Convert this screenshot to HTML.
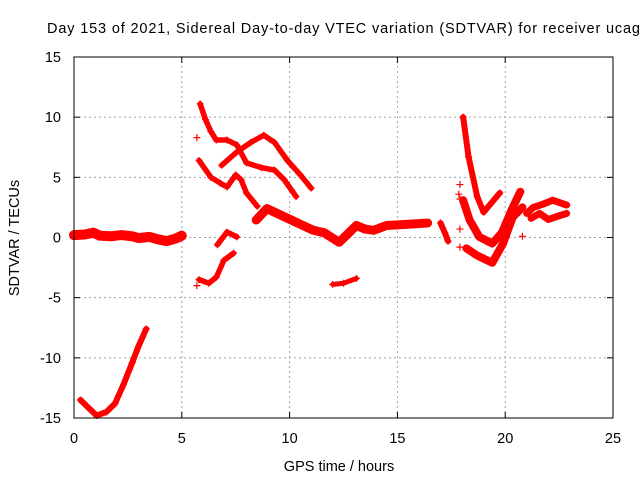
<!DOCTYPE html>
<html><head><meta charset="utf-8">
<style>
body{margin:0;background:#fff;}
svg{display:block;font-family:"Liberation Sans",sans-serif;}
</style></head>
<body>
<svg id="chart" width="640" height="480" viewBox="0 0 640 480">
<rect width="640" height="480" fill="#fff"/>
<text x="47" y="33" font-size="14.5" fill="#000" textLength="593" lengthAdjust="spacing">Day 153 of 2021, Sidereal Day-to-day VTEC variation (SDTVAR) for receiver ucag</text>
<g id="grid"></g>
<g id="ticks"></g>
<g id="series"></g>
<rect x="74" y="57" width="539" height="361" fill="none" stroke="#000" stroke-width="1"/>
<text x="339" y="471" font-size="14.5" text-anchor="middle">GPS time / hours</text>
<text x="19" y="238" font-size="14.5" text-anchor="middle" transform="rotate(-90 19 238)">SDTVAR / TECUs</text>
</svg>
<script>
const xTicks=[0,5,10,15,20,25];
const yTicks=[-15,-10,-5,0,5,10,15];
const trackFlat=[[0,0.2],[0.5,0.25],[0.9,0.4],[1.2,0.15],[1.7,0.1],[2.2,0.2],[2.7,0.1],[3.0,-0.05],[3.5,0.05],[3.9,-0.15],[4.3,-0.3],[4.7,-0.1],[5.0,0.15]];
const trackLow=[[0.3,-13.5],[0.7,-14.2],[1.05,-14.8],[1.5,-14.5],[1.9,-13.8],[2.3,-12.2],[2.7,-10.4],[3.0,-9],[3.35,-7.6]];
const trackC=[[5.85,11.1],[6.1,9.8],[6.35,8.8],[6.6,8.1],[7.1,8.1],[7.55,7.7],[8.0,6.2],[8.7,5.8],[9.3,5.6],[9.75,4.8],[10.3,3.4]];
const trackD=[[6.85,6.0],[7.55,7.1],[8.2,7.9],[8.8,8.5],[9.3,7.9],[9.9,6.4],[10.5,5.2],[11.0,4.1]];
const trackE=[[5.8,6.4],[6.35,5.0],[6.8,4.5],[7.1,4.2],[7.5,5.2],[7.75,4.8],[8.0,3.7],[8.5,2.6]];
const trackF=[[8.45,1.45],[8.95,2.4],[9.9,1.6],[11.1,0.6],[11.6,0.4],[12.3,-0.4],[12.7,0.3],[13.1,1.0],[13.5,0.7],[13.9,0.6],[14.5,1.0],[15.5,1.1],[16.4,1.2]];
const trackG=[[12.0,-3.9],[12.5,-3.8],[13.1,-3.4]];
const trackH=[[5.8,-3.5],[6.25,-3.8],[6.6,-3.3],[6.95,-1.9],[7.4,-1.3]];
const trackI=[[6.65,-0.6],[7.1,0.45],[7.55,0.05]];
const trackJ=[[17.0,1.2],[17.2,0.4],[17.35,-0.3]];
const trackK=[[18.05,10],[18.3,6.7],[18.7,3.4],[19.0,2.1],[19.75,3.7]];
const trackL=[[18.05,3.1],[18.35,1.45],[18.8,0.05],[19.4,-0.5],[19.85,0.4],[20.3,2.3],[20.7,3.8]];
const trackM=[[18.2,-0.9],[18.7,-1.5],[19.4,-2.1],[19.9,-0.5],[20.35,1.7],[20.8,2.5]];
const trackN=[[21.0,2.0],[21.3,2.5],[21.8,2.8],[22.2,3.1],[22.85,2.7]];
const trackO=[[21.2,1.6],[21.6,2.0],[22.0,1.5],[22.5,1.8],[22.85,2.0]];
const singles=[[5.7,8.3],[5.7,-4.0],[17.9,4.4],[17.85,3.6],[17.9,3.2],[17.9,0.7],[17.9,-0.8],[20.8,0.1]];
const tracks=[trackFlat,trackLow,trackC,trackD,trackE,trackF,trackG,trackH,trackI,trackJ,trackK,trackL,trackM,trackN,trackO];
const widths=[10,6,5.5,5.5,5.5,9,5,5.5,5.5,6,6,8,8,7,7];

const X0=74,X1=613,Y0=418,Y1=57;
function sx(h){return X0+(h-0)/(25-0)*(X1-X0);}
function sy(v){return Y0-(v+15)/30*(Y0-Y1);}
const NS="http://www.w3.org/2000/svg";
const grid=document.getElementById('grid'),ticks=document.getElementById('ticks'),ser=document.getElementById('series');
function mk(tag,attrs,parent){const e=document.createElementNS(NS,tag);for(const k in attrs)e.setAttribute(k,attrs[k]);parent.appendChild(e);return e;}

xTicks.forEach(t=>{
  const x=sx(t);
  if(t>0&&t<25){const g=mk('line',{x1:x,x2:x,y1:Y0,y2:Y1,stroke:'#a0a0a0','stroke-dasharray':'2,3','stroke-width':1},grid);
  
  }
  mk('line',{x1:x,x2:x,y1:Y0,y2:Y0-6,stroke:'#000'},ticks);
  mk('line',{x1:x,x2:x,y1:Y1,y2:Y1+6,stroke:'#000'},ticks);
  const l=mk('text',{x:x,y:443,'font-size':14.5,'text-anchor':'middle'},ticks);
  l.textContent=t;
  
  
});
yTicks.forEach(t=>{
  const y=sy(t);
  if(t>-15&&t<15){const g=mk('line',{x1:X0,x2:X1,y1:y,y2:y,stroke:'#a0a0a0','stroke-dasharray':'2,3','stroke-width':1},grid);
  
  }
  mk('line',{x1:X0,x2:X0+6,y1:y,y2:y,stroke:'#000'},ticks);
  mk('line',{x1:X1,x2:X1-6,y1:y,y2:y,stroke:'#000'},ticks);
  const l=mk('text',{x:61,y:y+5,'font-size':14.5,'text-anchor':'end'},ticks);
  l.textContent=t;
  
  
});
function plus(h,v,parent){
  const x=sx(h),y=sy(v);
  const p=mk('path',{d:`M${x-3.5},${y}H${x+3.5}M${x},${y-3.5}V${y+3.5}`,stroke:'#f00','stroke-width':1.2,fill:'none'},parent);
  
  
}
tracks.forEach((tr,i)=>{
  const g=mk('g',{},ser);
  
  
  const pl=mk('polyline',{points:tr.map(p=>sx(p[0])+','+sy(p[1])).join(' '),fill:'none',stroke:'#f00','stroke-width':widths[i],'stroke-linejoin':'round','stroke-linecap':'round'},g);
  
  
  tr.forEach(p=>plus(p[0],p[1],g));
});
singles.forEach(p=>plus(p[0],p[1],ser));
</script>
</body></html>
